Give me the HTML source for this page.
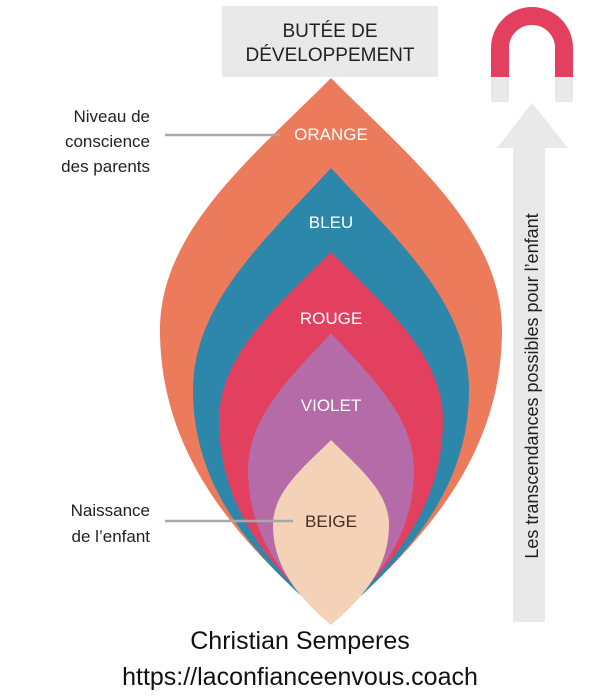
<!DOCTYPE html>
<html><head><meta charset="utf-8"><style>
html,body{margin:0;padding:0;background:#fff;width:600px;height:699px;overflow:hidden}
svg{display:block}
</style></head><body>
<svg width="600" height="699" viewBox="0 0 600 699" xmlns="http://www.w3.org/2000/svg" font-family="Liberation Sans, sans-serif">
<rect x="222" y="6" width="216" height="71" fill="#e9e9e9"/>
<text x="330" y="37" font-size="19" text-anchor="middle" fill="#222">BUTÉE DE</text>
<text x="330" y="61" font-size="19" text-anchor="middle" fill="#222">DÉVELOPPEMENT</text>
<path d="M331 78 C406 154 502 229 502 330 C502 461 416 549 331 622 C246 549 160 461 160 330 C160 229 256 154 331 78Z" fill="#ec7b5c"/>
<path d="M331 168 C392 235 469 301 469 390 C469 494 400 564 331 622 C262 564 193 494 193 390 C193 301 270 235 331 168Z" fill="#2c87ab"/>
<path d="M331 252 C380 302 443 353 443 420 C443 511 387 571 331 622 C275 571 219 511 219 420 C219 353 282 302 331 252Z" fill="#e3405f"/>
<path d="M331 333 C368 374 414 415 414 470 C414 539 373 585 331 623 C289 585 248 539 248 470 C248 415 294 374 331 333Z" fill="#b46ba8"/>
<path d="M331 440 C357 466 389 491 389 525 C389 570 360 600 331 625 C302 600 273 570 273 525 C273 491 305 466 331 440Z" fill="#f3d2b8"/>
<g font-size="17" text-anchor="middle" fill="#fff">
<text x="331" y="140">ORANGE</text>
<text x="331" y="228">BLEU</text>
<text x="331" y="324">ROUGE</text>
<text x="331" y="411">VIOLET</text>
<text x="331" y="527" fill="#4a2a20">BEIGE</text>
</g>
<line x1="165" y1="135" x2="280" y2="135" stroke="#a8a8a8" stroke-width="2.5"/>
<line x1="165" y1="521" x2="293" y2="521" stroke="#a8a8a8" stroke-width="2.5"/>
<g font-size="17" text-anchor="end" fill="#222">
<text x="150" y="122">Niveau de</text>
<text x="150" y="147">conscience</text>
<text x="150" y="172">des parents</text>
<text x="150" y="516">Naissance</text>
<text x="150" y="542">de l’enfant</text>
</g>
<path d="M500 78 L500 48 A31 31 0 0 1 564 48 L564 78" fill="none" stroke="#e3405f" stroke-width="18"/>
<path d="M500 77 L500 102 M564 77 L564 102" stroke="#e9e9e9" stroke-width="18"/>
<polygon points="532,103 568,148 497,148" fill="#e9e9e9"/>
<rect x="513" y="147" width="32" height="475" fill="#e9e9e9"/>
<text transform="translate(538,386) rotate(-90)" font-size="18" text-anchor="middle" fill="#222">Les transcendances possibles pour l’enfant</text>
<text x="300" y="649" font-size="25" text-anchor="middle" fill="#111">Christian Semperes</text>
<text x="300" y="685" font-size="25" text-anchor="middle" fill="#111">https://laconfianceenvous.coach</text>
</svg>
</body></html>
